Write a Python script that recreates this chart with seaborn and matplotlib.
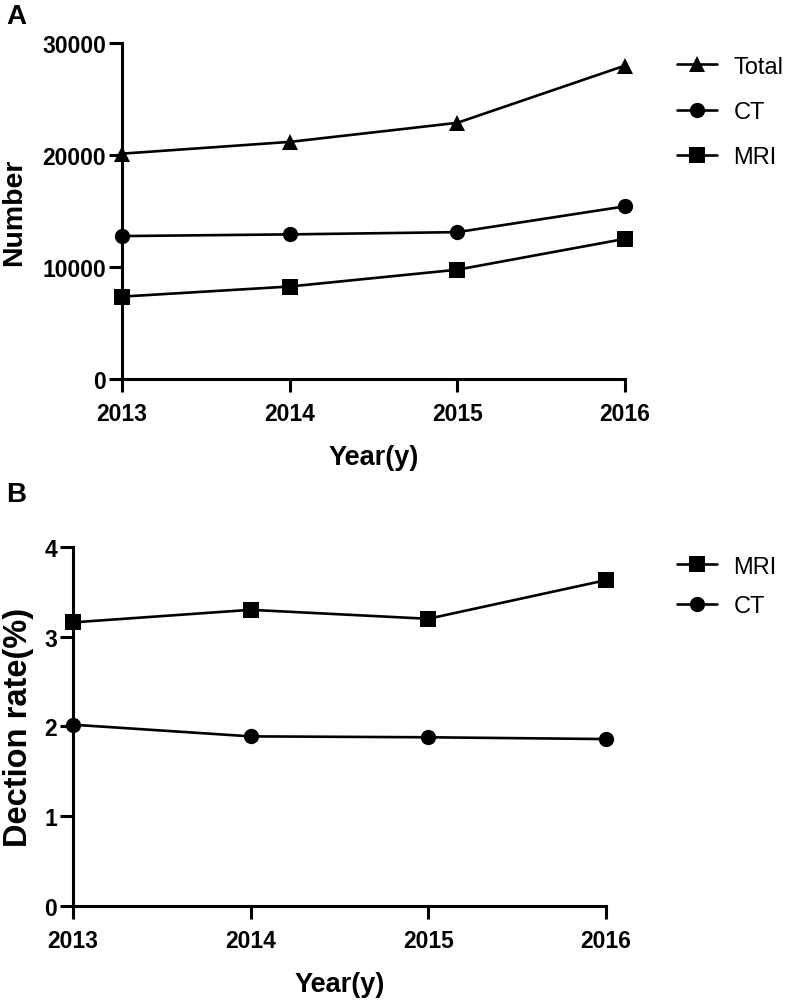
import pandas as pd
import matplotlib.pyplot as plt
import seaborn as sns
from matplotlib.lines import Line2D

years = [2013, 2014, 2015, 2016]

# panel A: numbers of examinations
total_num = [20100, 21150, 22850, 27950]
ct_num = [12750, 12900, 13100, 15400]
mri_num = [7350, 8250, 9750, 12500]

# panel B: detection rate (%)
mri_rate = [3.16, 3.30, 3.20, 3.63]
ct_rate = [2.02, 1.89, 1.88, 1.86]

sns.set_style("ticks")
plt.rcParams['font.family'] = ['Liberation Sans', 'DejaVu Sans']
plt.rcParams['text.color'] = 'black'
plt.rcParams['axes.labelcolor'] = 'black'
plt.rcParams['xtick.color'] = 'black'
plt.rcParams['ytick.color'] = 'black'
plt.rcParams['axes.edgecolor'] = 'black'

markers = {"Total": "^", "CT": "o", "MRI": "s"}


def style_axes(ax, ymax, yticks, ylabel, ylabel_size, ylabel_pad):
    ax.set_xlim(2013, 2016)
    ax.set_ylim(0, ymax)
    ax.set_xticks(years)
    ax.set_yticks(yticks)
    ax.set_xticklabels([str(y) for y in years], fontsize=16.5, fontweight='bold')
    ax.set_yticklabels([str(t) for t in yticks], fontsize=16.5, fontweight='bold')
    ax.set_xlabel("Year(y)", fontsize=19.5, fontweight='bold', labelpad=14)
    ax.set_ylabel(ylabel, fontsize=ylabel_size, fontweight='bold', labelpad=ylabel_pad)
    for s in ["top", "right"]:
        ax.spines[s].set_visible(False)
    for s in ["left", "bottom"]:
        ax.spines[s].set_linewidth(2.2)
    ax.tick_params(width=2.2, length=9.5)
    ax.tick_params(axis='x', pad=7)
    ax.tick_params(axis='y', pad=2)


def draw(ax, series):
    handles = []
    for name, vals in series:
        df = pd.DataFrame({"year": years, "value": vals})
        sns.lineplot(data=df, x="year", y="value", ax=ax, color="black",
                     marker=markers[name], markersize=11, linewidth=1.9,
                     markeredgewidth=0, clip_on=False)
        handles.append(Line2D([0], [0], color="black", marker=markers[name],
                              markersize=11, linewidth=1.9, markeredgewidth=0,
                              label=name))
    return handles


fig = plt.figure(figsize=(7.87, 10.04), dpi=100)

axA = fig.add_axes([0.155, 0.6215, 0.639, 0.335])
hA = draw(axA, [("Total", total_num), ("CT", ct_num), ("MRI", mri_num)])
style_axes(axA, 30000, [0, 10000, 20000, 30000], "Number", 20.5, 11)
fig.legend(handles=hA, loc="upper left", bbox_to_anchor=(0.848, 0.953),
           frameon=False, fontsize=17, handlelength=1.7, labelspacing=0.98,
           handletextpad=0.7, borderaxespad=0)
fig.text(0.008, 0.983, "A", fontsize=20, fontweight='bold', va='center')

axB = fig.add_axes([0.0928, 0.0966, 0.677, 0.3576])
hB = draw(axB, [("MRI", mri_rate), ("CT", ct_rate)])
style_axes(axB, 4, [0, 1, 2, 3, 4], "Dection rate(%)", 23.5, 7)
fig.legend(handles=hB, loc="upper left", bbox_to_anchor=(0.848, 0.455),
           frameon=False, fontsize=17, handlelength=1.7, labelspacing=0.75,
           handletextpad=0.7, borderaxespad=0)
fig.text(0.008, 0.507, "B", fontsize=20, fontweight='bold', va='center')

fig.savefig("out.png", dpi=100)
